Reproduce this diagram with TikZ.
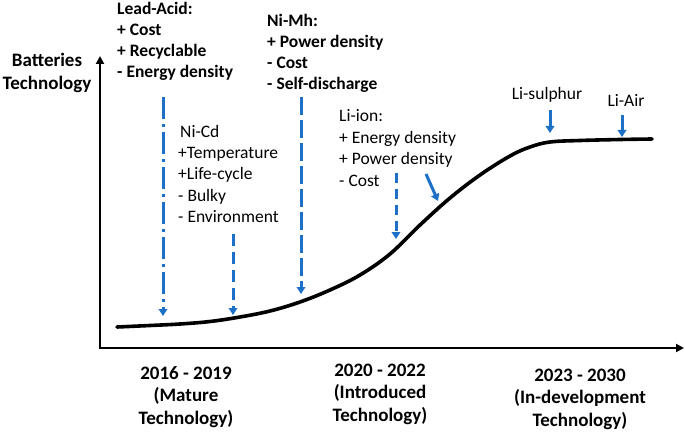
\documentclass[tikz,border=0pt]{standalone}
\usepackage{fontspec}
\setmainfont{Carlito}
\usetikzlibrary{arrows.meta}
\definecolor{arrowblue}{RGB}{28,112,200}
\begin{document}
\begin{tikzpicture}[x=1pt,y=-1pt,
  txt/.style={inner sep=0pt, anchor=base west, font=\fontsize{17.5}{21}\selectfont},
  btxt/.style={txt, font=\fontsize{17.5}{21}\selectfont\bfseries},
  ctxt/.style={inner sep=0pt, anchor=base, font=\fontsize{17.5}{21}\selectfont},
  period/.style={inner sep=0pt, anchor=base, font=\fontsize{19}{22.5}\selectfont\bfseries},
  axis/.style={line width=2.6pt, line join=miter, {Triangle[width=8pt,length=8pt]}-{Triangle[width=8pt,length=8pt]}},
  curve/.style={line width=3.6pt, line cap=round},
  barrow/.style={arrowblue, line width=3pt, -{Triangle[width=8.5pt,length=7pt]}},
]
\useasboundingbox (0,0) rectangle (685,433);

% axes
\coordinate (ytop) at (100,56);
\coordinate (corner) at (100,348);
\coordinate (xend) at (684,348);
\draw[axis] (ytop) -- (corner) -- (xend);

\node[period] (ylabel) at (47,67) {\begin{tabular}[t]{@{}c@{}}Batteries\\Technology\end{tabular}};

% curve
\draw[curve] plot[smooth, tension=0.6] coordinates {(117,327) (150,325.5) (180,324) (210,321.5) (240,317) (270,311) (300,302) (330,290) (360,275) (390,254) (420,225) (450,198) (480,175) (510,156) (530,147) (550,142) (580,140.5) (620,139.5) (652,139)};

% text blocks
\node[btxt] (leadacid) at (117,15) {\begin{tabular}[t]{@{}l@{}}Lead-Acid:\\+ Cost\\+ Recyclable\\- Energy density\end{tabular}};
\node[btxt] (nimh) at (267,27) {\begin{tabular}[t]{@{}l@{}}Ni-Mh:\\+ Power density\\- Cost\\- Self-discharge\end{tabular}};
\node[txt] (nicd) at (178,137) {\renewcommand{\arraystretch}{1.02}\begin{tabular}[t]{@{}l@{}}\hspace{2pt}Ni-Cd\\+Temperature\\+Life-cycle\\- Bulky\\- Environment\end{tabular}};
\node[txt] (liion) at (339,122) {\renewcommand{\arraystretch}{1.02}\begin{tabular}[t]{@{}l@{}}Li-ion:\\+ Energy density\\+ Power density\\- Cost\end{tabular}};
\node[ctxt] (lisulphur) at (547,100) {Li-sulphur};
\node[ctxt] (liair) at (626,107) {Li-Air};

% periods
\node[period] (per1) at (186,379) {\begin{tabular}[t]{@{}c@{}}2016 - 2019\\(Mature\\Technology)\end{tabular}};
\node[period] (per2) at (380,376) {\begin{tabular}[t]{@{}c@{}}2020 - 2022\\(Introduced\\Technology)\end{tabular}};
\node[period] (per3) at (580,381) {\begin{tabular}[t]{@{}c@{}}2023 - 2030\\(In-development\\Technology)\end{tabular}};

% arrow end points
\coordinate (la-s) at (163,97);   \coordinate (la-e) at (163,316);
\coordinate (nm-s) at (301,97);   \coordinate (nm-e) at (301,294);
\coordinate (nc-s) at (233,234);  \coordinate (nc-e) at (233,315);
\coordinate (lc-s) at (396,173);  \coordinate (lc-e) at (396,239);
\coordinate (lp-s) at (426,174);  \coordinate (lp-e) at (438,201);
\coordinate (ls-s) at (550,110);  \coordinate (ls-e) at (550,133);
\coordinate (lr-s) at (622,115);  \coordinate (lr-e) at (622,137);

\draw[barrow, dash pattern=on 22pt off 5pt on 3pt off 5pt] (la-s) -- (la-e);
\draw[barrow, dash pattern=on 18pt off 5pt] (nm-s) -- (nm-e);
\draw[barrow, dash pattern=on 12pt off 6pt] (nc-s) -- (nc-e);
\draw[barrow, dash pattern=on 10pt off 6pt] (lc-s) -- (lc-e);
\draw[barrow] (lp-s) -- (lp-e);
\draw[barrow] (ls-s) -- (ls-e);
\draw[barrow] (lr-s) -- (lr-e);
\end{tikzpicture}
\end{document}
